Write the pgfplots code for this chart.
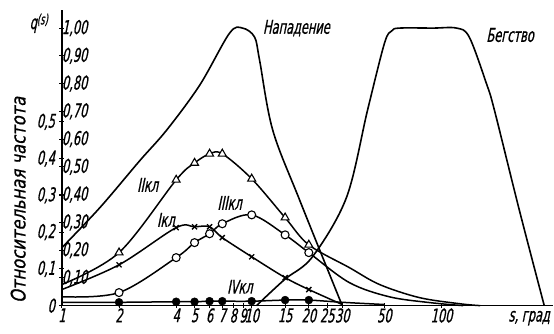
\documentclass[border=0pt]{standalone}
\usepackage{fontspec}
\setmainfont{DejaVu Sans}[FakeStretch=0.6, FakeSlant=0.2, FakeBold=0.8]
\usepackage{pgfplots}
\pgfplotsset{compat=1.18}
\pgfplotstableread{
s q
1 0.209
1.585 0.353
2.57 0.522
3.57 0.633
5.33 0.795
7.65 0.982
8.95 1.0
10.35 0.968
11.0 0.885
12.9 0.633
17.9 0.38
30 0
}\attack
\pgfplotstableread{
s q
10.6 0
14.9 0.094
20.9 0.176
31.6 0.39
40.8 0.705
50.1 0.946
54.7 0.99
60.1 1.0
90 1.0
120 1.0
140 0.968
172.6 0.80
190 0.705
257 0.345
348 0
}\flight
\pgfplotstableread{
s q
1 0.076
2 0.191
4 0.453
5 0.514
6 0.547
7 0.547
10 0.457
15 0.317
20 0.219
32.7 0.137
47.2 0.076
76.4 0.029
124 0.007
160 0
}\clII
\pgfplotstableread{
s q
2 0.191
4 0.453
5 0.514
6 0.547
7 0.547
10 0.457
15 0.317
20 0.219
}\clIImk
\pgfplotstableread{
s q
1 0.058
2 0.147
4 0.281
5 0.284
6 0.284
7 0.245
10 0.176
15 0.101
20 0.058
30 0.004
}\clI
\pgfplotstableread{
s q
2 0.147
4 0.281
5 0.284
6 0.284
7 0.245
10 0.176
15 0.101
20 0.058
}\clImk
\pgfplotstableread{
s q
1 0.032
2 0.047
4 0.173
5 0.227
6 0.259
7 0.295
10 0.327
15 0.255
20 0.191
32.7 0.083
53 0.032
86.5 0.011
130 0
}\clIII
\pgfplotstableread{
s q
2 0.047
4 0.173
5 0.227
6 0.259
7 0.295
10 0.327
15 0.255
20 0.191
}\clIIImk
\pgfplotstableread{
s q
1 0.012
2 0.012
4 0.014
5 0.014
6 0.016
7 0.016
10 0.016
15 0.020
20 0.020
30 0.012
50 0.004
}\clIV
\pgfplotstableread{
s q
2 0.012
4 0.014
5 0.014
6 0.016
7 0.016
10 0.016
15 0.020
20 0.020
}\clIVmk
\begin{document}
\begin{tikzpicture}[font=\fontsize{19}{21}\selectfont]
\begin{axis}[
  width=492pt, height=296pt, scale only axis,
  xmode=log, xmin=1, xmax=388,
  clip=false,
  tick style={line width=1pt, black},
  major tick length=5pt,
  tick align=center,
  ymin=0, ymax=1.065,
  axis x line=bottom, axis y line=left,
  axis line style={line width=1.6pt, -},
  xtick={1,2,4,5,6,7,8,9,10,15,20,25,30,50,100},
  xticklabels={1,2,4,5,6,7,8,9,10,15,20,25,30,50,100},
  minor xtick={},
  xticklabel style={yshift=1pt, inner sep=1pt},
  ytick={0.1,0.2,0.3,0.4,0.5,0.6,0.7,0.8,0.9,1.0},
  yticklabels={{0,10},{0,20},{0,30},{0,40},{0,50},{0,60},{0,70},{0,80},{0,90},{1,00}},
  yticklabel style={anchor=west, xshift=-1pt},
]
\addplot[line width=1.6pt, black, smooth, tension=0.55] table[x=s,y=q] {\attack};
\addplot[line width=1.6pt, black, smooth, tension=0.55] table[x=s,y=q] {\flight};
\addplot[line width=1.5pt, black, smooth, tension=0.55] table[x=s,y=q] {\clII};
\addplot[line width=1.5pt, black, smooth, tension=0.55] table[x=s,y=q] {\clI};
\addplot[line width=1.5pt, black, smooth, tension=0.55] table[x=s,y=q] {\clIII};
\addplot[line width=1.5pt, black, smooth, tension=0.55] table[x=s,y=q] {\clIV};
\addplot[only marks, mark=triangle*, mark size=4.6pt, mark options={fill=white, draw=black, line width=1.1pt}] table[x=s,y=q] {\clIImk};
\addplot[only marks, mark=x, mark size=3.6pt, mark options={draw=black, line width=1.3pt}] table[x=s,y=q] {\clImk};
\addplot[only marks, mark=*, mark size=4pt, mark options={fill=white, draw=black, line width=1.1pt}] table[x=s,y=q] {\clIIImk};
\addplot[only marks, mark=*, mark size=4pt, mark options={fill=black, draw=black}] table[x=s,y=q] {\clIVmk};
\node at (axis cs:17.2,1.0) {Нападение};
\node at (axis cs:230,0.975) {Бегство};
\node at (axis cs:2.83,0.435) {IIкл};
\node at (axis cs:3.53,0.309) {Iкл};
\node at (axis cs:7.65,0.37) {IIIкл};
\node at (axis cs:8.66,0.068) {IVкл};
\node[anchor=north, inner sep=1pt] at (axis cs:290,0) {\strut s, град};
\node at (axis description cs:-0.047,0.955) {q\raisebox{0.45ex}{\fontsize{14}{14}\selectfont(s)}};
\node[rotate=90, font=\fontsize{20}{22}\selectfont\addfontfeature{FakeStretch=0.82}] at (axis description cs:-0.089,0.358) {Относительная частота};
\path (axis description cs:-0.126,-0.0946) rectangle (axis description cs:1,1.034);
\end{axis}
\begin{axis}[
  width=492pt, height=296pt, scale only axis,
  xmode=log, xmin=1, xmax=388,
  clip=false,
  tick style={line width=1pt, black},
  major tick length=5pt,
  tick align=center,
  ymin=0, ymax=0.804,
  hide x axis,
  axis y line=left,
  axis line style={draw=none},
  ytick={0,0.1,0.2,0.3,0.4,0.5},
  yticklabels={0,{0,1},{0,2},{0,3},{0,4},{0,5}},
  yticklabel style={anchor=east, xshift=-1pt},
]
\end{axis}
\end{tikzpicture}
\end{document}
